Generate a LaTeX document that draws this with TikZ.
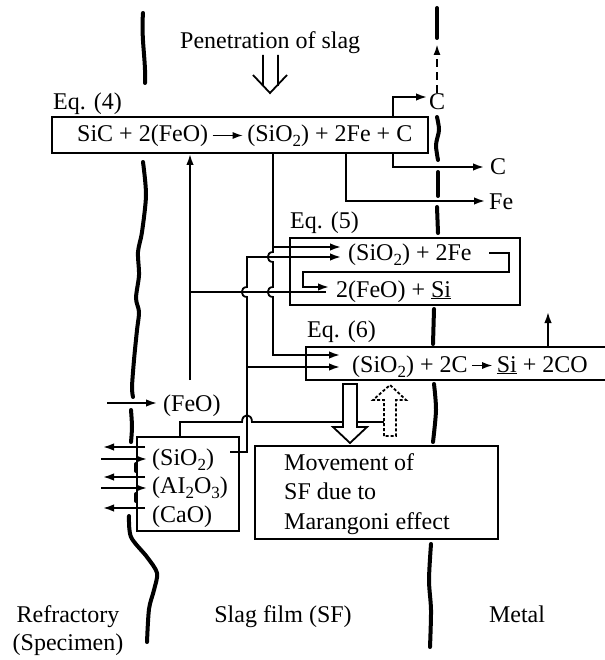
\documentclass[tikz,border=0pt]{standalone}
\usepackage{fontspec}
\setmainfont{Liberation Serif}
\usetikzlibrary{arrows.meta}
\newcommand{\eqarr}[1]{\tikz[baseline=-6.5pt,x=1pt,y=1pt]\draw[line width=1.3pt,-{Latex[length=10pt,width=7pt]}] (0,0)--(#1,0);}
\newcommand{\sbs}[1]{\raisebox{-5pt}{\fontsize{17}{17}\selectfont #1}}
\begin{document}
\begin{tikzpicture}[x=1pt,y=-1pt,
  ln/.style={line width=1.8pt},
  arr/.style={line width=1.8pt,-{Latex[length=11pt,width=7.5pt]}},
  bnd/.style={line width=4pt,line cap=round},
  box/.style={line width=1.8pt,fill=white},
  t/.style={font=\fontsize{24}{29}\selectfont,inner sep=0pt,anchor=base west}]
\useasboundingbox (0,0) rectangle (604,660);

% ---------- interface boundaries ----------
\draw[bnd] (143,13) .. controls (141,40) and (146,60) .. (145,83);
\draw[bnd] plot[smooth] coordinates {(143,162) (146,195) (142,232) (138,252) (139,275) (136,298) (139,312) (137,330) (134,360) (132,387) (133,397)};
\draw[bnd] plot[smooth] coordinates {(131,410) (132,427) (131,442)};
\draw[bnd] (136,464) -- (136,471) (136,494) -- (136,501);
\draw[bnd] plot[smooth] coordinates {(129,516) (131,537) (147,557) (157,573) (154,590) (149,609) (147,642)};

\draw[bnd] (437,8) -- (437,38);
\draw[line width=2pt,dash pattern=on 8pt off 5pt,-{Latex[length=11pt,width=7pt]}] (437,93) -- (437,44);
\draw[bnd] plot[smooth] coordinates {(437,117) (439,130) (436,145) (438,160)};
\draw[bnd] (438,172) -- (438,196);
\draw[bnd] (437,207) -- (438,233);
\draw[bnd] (434,309) -- (433,344);
\draw[bnd] plot[smooth] coordinates {(434,384) (436,410) (433,442)};
\draw[bnd] plot[smooth] coordinates {(431,544) (429,580) (431,610) (430,647)};

% ---------- boxes ----------
\draw[box] (52,117) rectangle (428,153);
\draw[box] (290,238) rectangle (520,305);
\draw[box] (306,347) rectangle (612,380);
\draw[box] (255,446) rectangle (498,539);
\draw[ln] (137,437) rectangle (239,531);

% ---------- penetration arrow ----------
\draw[line width=1.8pt,miter limit=4] (263,55) -- (263,86) (278,55) -- (278,86) (253,75) -- (270,93) -- (287,75);

% ---------- Eq. (4) products ----------
\draw[arr] (393,117) -- (393,97) -- (427,97);
\draw[arr] (393,153) -- (393,167) -- (484,167);
\draw[arr] (346,153) -- (346,201) -- (485,201);

% SiO2 from Eq. (4)
\draw[arr] (273,153) -- (273,252) .. controls (266,252) and (266,262) .. (273,262) -- (273,287) .. controls (266,287) and (266,297) .. (273,297) -- (273,355) -- (340,355);
\draw[arr] (273,247) -- (341,247);

% SiO2 from refractory
\draw[arr] (230,452) -- (247,452) -- (247,297) .. controls (240,297) and (240,287) .. (247,287) -- (247,257) -- (341,257);
\draw[arr] (247,367) -- (340,367);

% FeO back to Eq. (4)
\draw[arr] (190,380) -- (190,154);
\draw[ln] (326,292) -- (190,292);

% Eq. (5) hook
\draw[arr] (489,253) -- (509,253) -- (509,272) -- (303,272) -- (303,287) -- (329,287);

% Eq. (6) upward
\draw[arr] (548,347) -- (548,312);

% oxide box to Marangoni
\draw[ln] (180,437) -- (180,422) -- (242,422) .. controls (242,413) and (252,413) .. (252,422) -- (384,422);

% hollow arrows
\draw[ln,fill=white] (343,384) -- (357,384) -- (357,427) -- (367,427) -- (350,443) -- (333,427) -- (343,427) -- cycle;
\draw[ln,dash pattern=on 3pt off 2pt,fill=white] (384,436) -- (384,400) -- (373,400) -- (390,385) -- (406,400) -- (396,400) -- (396,436) -- cycle;

% FeO arrow and exchange arrows
\draw[arr] (107,403) -- (157,403);
\draw[arr] (145,447) -- (103,447);
\draw[arr] (101,459) -- (147,459);
\draw[arr] (145,477) -- (103,477);
\draw[arr] (101,488) -- (147,488);
\draw[arr] (145,508) -- (103,508);

% ---------- texts ----------
\node[t] (pen) at (180,49) {Penetration of slag};
\node[t] (eqfourl) at (53,110) {Eq. (4)};
\node[t] (eqfour) at (77,142) {SiC + 2(FeO)\,\eqarr{30}\,(SiO\sbs{2}) + 2Fe + C};
\node[t] (ctop) at (429,110) {C};
\node[t] (cmid) at (490,175) {C};
\node[t] (fe) at (489,210) {Fe};
\node[t] (eqfivel) at (290,228) {Eq. (5)};
\node[t] (eqfivea) at (348,260) {(SiO\sbs{2}) + 2Fe};
\node[t] (eqfiveb) at (336,297) {2(FeO) + \underline{Si}};
\node[t] (eqsixl) at (307,337) {Eq. (6)};
\node[t] (eqsix) at (352,372) {(SiO\sbs{2}) + 2C\,\eqarr{20}\,\underline{Si} + 2CO};
\node[t] (feo) at (163,411) {(FeO)};
\node[t] (sio) at (152,465) {(SiO\sbs{2})};
\node[t] (alo) at (152,493) {(AI\sbs{2}O\sbs{3})};
\node[t] (cao) at (152,522) {(CaO)};
\node[t] (mone) at (284,470) {Movement of};
\node[t] (mtwo) at (284,499) {SF due to};
\node[t] (mthree) at (284,529) {Marangoni effect};
\node[t,anchor=base] (ref) at (68,622) {Refractory};
\node[t,anchor=base] (spec) at (68,650) {(Specimen)};
\node[t,anchor=base] (slag) at (283,622) {Slag film (SF)};
\node[t,anchor=base] (metal) at (517,622) {Metal};
\end{tikzpicture}
\end{document}
